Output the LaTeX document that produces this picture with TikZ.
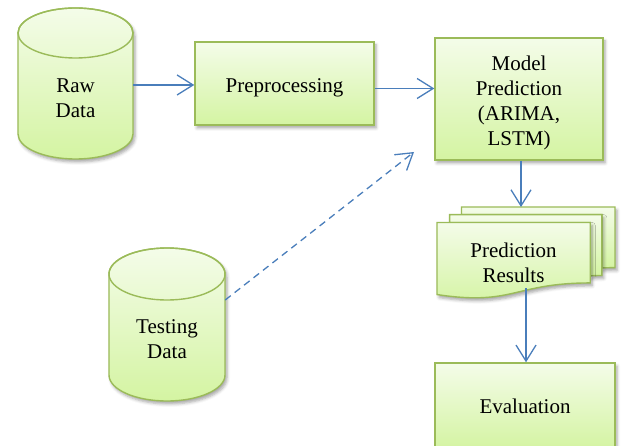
\documentclass[tikz,border=0pt]{standalone}
\usepackage{fontspec}
\setmainfont{Liberation Serif}
\usetikzlibrary{arrows.meta,shadows.blur}
\definecolor{edgegreen}{HTML}{9BBB59}
\definecolor{filltop}{HTML}{F4FCE9}
\definecolor{fillbot}{HTML}{D4F4A2}
\definecolor{flowblue}{HTML}{4A7EBB}
\tikzset{
  panel/.style={draw=edgegreen, line width=1.4pt, top color=filltop, bottom color=fillbot,
    blur shadow={shadow xshift=2pt, shadow yshift=-3pt, shadow blur radius=3pt, shadow opacity=35}},
  txt/.style={align=center, font=\fontsize{21}{25}\selectfont, inner sep=0pt},
  box/.style={panel, txt},
  flow/.style={draw=flowblue, line width=1.3pt, -{Straight Barb[length=16pt,width=20pt]}},
}
% drum (database) outline: centre x, top-end y, bottom-end y, x radius, y radius
\newcommand\drumshape[5]{%
  \path[panel] (#1-#4,#2) -- (#1-#4,#3)
    arc[start angle=180,end angle=360,x radius=#4,y radius=#5]
    -- (#1+#4,#2)
    arc[start angle=0,end angle=180,x radius=#4,y radius=#5] -- cycle;
  \draw[edgegreen, line width=1.4pt] (#1,#2) ellipse[x radius=#4,y radius=#5];
}
\begin{document}
\begin{tikzpicture}[x=1pt,y=1pt]
  \path[use as bounding box] (0,0) rectangle (621,445);

  % data stores
  \drumshape{75.5}{412}{311}{57.5}{25}
  \node[txt, minimum width=115] (raw) at (75.5,347) {Raw\\Data};
  \drumshape{167}{171}{70}{58}{26}
  \node[txt, minimum width=116] (testing) at (167,106) {Testing\\Data};

  % processing steps
  \node[box, minimum width=179, minimum height=83, text height=19pt, text depth=0pt] (pre) at (284.5,361.5) {Preprocessing};
  \node[panel, minimum width=168, minimum height=122] (model) at (519,346) {};
  \node[txt] (modeltext) at (519,342) {Model\\Prediction\\(ARIMA,\\LSTM)};
  \node[box, minimum width=180, minimum height=86] (eval) at (525,39) {Evaluation};

  % stacked result sheets (back, middle, front)
  \path[panel] (461.49,230.35) -- (461.49,238) -- (615,238) -- (615,177.37)
    .. controls (608.41,177.37) and (601.81,177.05) .. (601.81,177.05) -- (601.81,230.35) -- cycle;
  \path[panel] (449.63,222.52) -- (449.63,230.35) -- (601.81,230.35) -- (601.81,169.53)
    .. controls (596.03,169.53) and (590.24,169.11) .. (590.24,169.11) -- (590.24,222.52) -- cycle;
  \path[panel] (437,150.45) .. controls (513.62,138.82) and (513.62,162.07) .. (590.24,162.07)
    -- (590.24,222.52) -- (437,222.52) -- cycle;
  \node[txt] (res) at (513.5,182) {Prediction\\Results};
  \coordinate (resin) at (521,238);
  \coordinate (resout) at (526,157);
  \coordinate (dashend) at (414,293);

  % connectors
  \draw[flow] ([yshift=13pt]raw.east) -- ([yshift=13pt]raw.east -| pre.west);
  \draw[flow] ([yshift=-5pt]pre.east) -- ([yshift=-5pt]pre.east -| model.west);
  \draw[flow] (model.south -| resin) -- (resin);
  \draw[flow] (resout) -- (resout |- eval.north);
  \draw[flow, dash pattern=on 7pt off 5pt] ([yshift=39pt]testing.east) -- (dashend);
\end{tikzpicture}
\end{document}
